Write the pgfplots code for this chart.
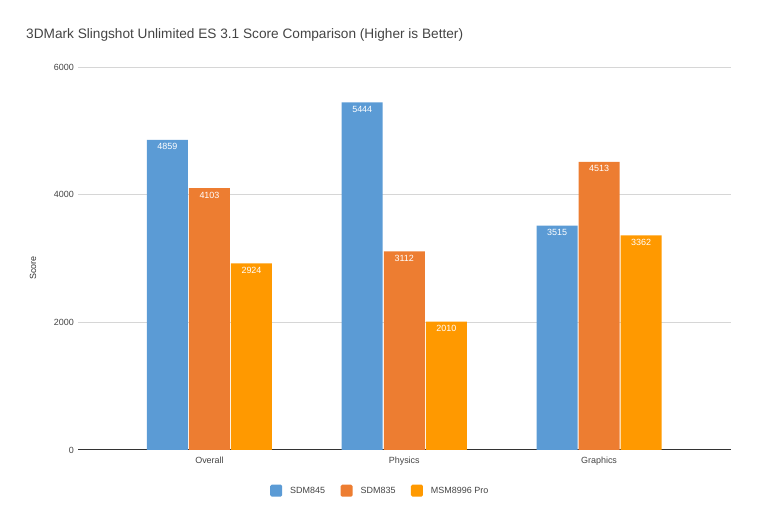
\documentclass[border=0pt]{standalone}
\usepackage{fontspec}
\setmainfont{Liberation Sans}
\usepackage{pgfplots}
\pgfplotsset{compat=1.18}
\definecolor{cA}{HTML}{5B9BD5}
\definecolor{cB}{HTML}{ED7D31}
\definecolor{cC}{HTML}{FF9900}
\definecolor{gridc}{HTML}{D6D6D6}
\definecolor{txt}{HTML}{444444}
\definecolor{base}{HTML}{333333}
\begin{document}
\begin{tikzpicture}
\useasboundingbox (0,0) rectangle (757bp,523bp);
\node[anchor=west, font=\fontsize{13.7}{16}\selectfont, text=txt, inner sep=0pt] at (26bp,488bp) {3DMark Slingshot Unlimited ES 3.1 Score Comparison (Higher is Better)};
\begin{axis}[
  at={(78bp,73bp)}, anchor=south west,
  scale only axis, width=652.7bp, height=383bp,
  xmin=-0.675, xmax=2.676, ymin=0, ymax=6000,
  xtick={0,1,2}, xticklabels={Overall,Physics,Graphics},
  ytick={2000,4000,6000},
  extra y ticks={0}, extra y tick labels={0},
  extra y tick style={grid style={draw=base, line width=1bp}},
  scaled y ticks=false,
  /pgf/number format/1000 sep={},
  /pgf/number format/assume math mode=true,
  axis line style={draw=none},
  major tick length=0pt,
  ymajorgrids,
  grid style={draw=gridc, line width=0.8bp},
  tick label style={font=\fontsize{9}{11}\selectfont, text=txt, inner sep=0pt},
  yticklabel style={xshift=-4bp},
  xticklabel style={yshift=-7bp},
  ylabel={Score},
  ylabel style={at={(axis description cs:-0.069,0.475)}, anchor=center, inner sep=0pt, font=\fontsize{9}{11}\selectfont, text=base},
  bar width=0.2105,
  ybar,
  nodes near coords,
  nodes near coords style={font=\fontsize{9}{11}\selectfont, text=white, anchor=north, inner sep=0pt, yshift=-3.5bp},
  legend columns=3,
  legend style={at={(axis description cs:0.2942,-0.1063)}, anchor=west, draw=none, inner sep=0pt,
    font=\fontsize{9}{11}\selectfont, text=txt,
    nodes={inner sep=0pt},
    /tikz/every odd column/.style={column sep=8bp},
    /tikz/every even column/.style={column sep=15.5bp}},
  legend image code/.code={\fill[#1,draw=none,rounded corners=1.5bp] (0bp,-6bp) rectangle (12bp,6bp);},
]
\addplot[fill=cA, draw=none, bar shift=-0.2157] coordinates {(0,4859) (1,5444) (2,3515)};
\addlegendentry{SDM845}
\addplot[fill=cB, draw=none, bar shift=0] coordinates {(0,4103) (1,3112) (2,4513)};
\addlegendentry{SDM835}
\addplot[fill=cC, draw=none, bar shift=0.2157] coordinates {(0,2924) (1,2010) (2,3362)};
\addlegendentry{MSM8996 Pro}
\end{axis}
\end{tikzpicture}
\end{document}
